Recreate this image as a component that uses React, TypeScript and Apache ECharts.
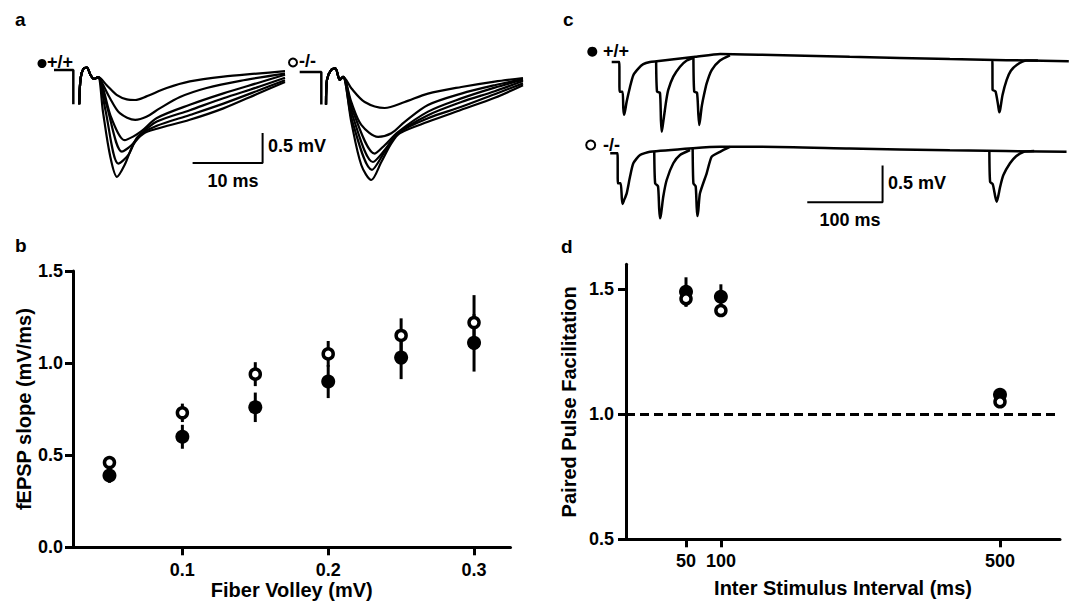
import React, { useEffect, useRef } from "react";
import * as echarts from "echarts";

const FONT = "'Liberation Sans', Arial, Helvetica, sans-serif";

// ---------- Panel a : fEPSP input/output traces (time ms, mV) ----------
const aArtifactWT = [[0, 0], [2.76, 0], [2.76, -0.57]];
const aOnsetWT = [[3.6, -0.57], [3.8, -0.14], [4.2, 0.02], [4.7, 0.04], [5.2, -0.08], [5.7, -0.15], [6.3, -0.12]];
const aTracesWT = [
  [[7.5, -0.25], [9.0, -0.42], [10.4, -0.49], [11.6, -0.5], [13.2, -0.44], [16.1, -0.3], [19.4, -0.19], [24.2, -0.11], [29.0, -0.06], [33, -0.02]],
  [[6.8, -0.2], [8.0, -0.47], [9.4, -0.72], [11.6, -0.83], [13.2, -0.78], [15.1, -0.64], [18.0, -0.45], [21.8, -0.3], [26.6, -0.18], [33, -0.06]],
  [[7.0, -0.3], [8.2, -0.8], [10.1, -1.17], [11.3, -1.11], [12.5, -1.02], [14.7, -0.8], [19.4, -0.58], [24.2, -0.39], [29.0, -0.22], [33, -0.08]],
  [[7.5, -0.58], [9.7, -1.36], [11.1, -1.25], [12.3, -1.08], [14.7, -0.86], [19.4, -0.67], [24.2, -0.47], [29.0, -0.29], [33, -0.13]],
  [[7.3, -0.64], [9.2, -1.56], [10.6, -1.42], [12.0, -1.11], [14.7, -0.93], [19.4, -0.75], [24.2, -0.56], [29.0, -0.35], [33, -0.17]],
  [[7.0, -0.7], [8.0, -1.42], [9.0, -1.78], [10.1, -1.58], [11.3, -1.25], [12.8, -1.06], [14.7, -0.98], [19.4, -0.83], [24.2, -0.64], [29.0, -0.4], [33, -0.2]],
];
const aArtifactKO = [[-0.33, 0], [2.76, 0], [2.76, -0.54]];
const aOnsetKO = [[3.43, -0.54], [3.57, -0.13], [4.14, 0.03], [4.76, 0.06], [5.39, -0.13], [5.86, -0.08]];
const aTracesKO = [
  [[7.04, -0.27], [8.96, -0.5], [11.81, -0.6], [14.67, -0.5], [18, -0.36], [22.76, -0.25], [27.53, -0.16], [31.57, -0.1]],
  [[7.04, -0.5], [8.47, -0.88], [10.86, -1.08], [12.76, -1.02], [14.67, -0.83], [18, -0.55], [22.76, -0.36], [27.53, -0.22], [31.57, -0.12]],
  [[7.29, -0.66], [10.39, -1.36], [11.81, -1.22], [13.71, -1.0], [18, -0.66], [22.76, -0.44], [27.53, -0.26], [31.57, -0.13]],
  [[7.29, -0.75], [10.14, -1.5], [11.81, -1.3], [13.71, -1.02], [18, -0.72], [22.76, -0.5], [27.53, -0.32], [31.57, -0.15]],
  [[7.14, -0.8], [10.0, -1.63], [11.81, -1.33], [13.71, -1.02], [18, -0.77], [22.76, -0.58], [27.53, -0.37], [31.57, -0.19]],
  [[7.04, -0.83], [8.47, -1.55], [9.9, -1.8], [11.33, -1.5], [12.76, -1.19], [13.96, -1.02], [18, -0.83], [22.76, -0.63], [27.53, -0.43], [31.57, -0.22]],
];
const scaleBarA = [[19.8, -1.55], [29.8, -1.55], [29.8, -1.05]]; // 10 ms, 0.5 mV

// ---------- Panel b : input/output ----------
const bFiberVolley = [0.05, 0.1, 0.15, 0.2, 0.25, 0.3];
const bSlopeWT = [0.39, 0.6, 0.76, 0.9, 1.03, 1.11];
const bSemWT = [0.04, 0.065, 0.08, 0.09, 0.117, 0.156];
const bSlopeKO = [0.46, 0.73, 0.94, 1.05, 1.15, 1.22];
const bSemKO = [0.02, 0.05, 0.065, 0.07, 0.093, 0.149];
const bXTicks = [0.1, 0.2, 0.3];

// ---------- Panel c : paired-pulse traces (time ms, mV) ----------
const cBaseWT = [[-11, 0], [-1, 0], [-0.5, -0.405], [3.4, -0.405], [4.4, -0.63], [5.3, -0.72], [6.5, -0.68], [8.9, -0.54], [13.3, -0.34], [17.7, -0.18], [24.3, -0.09], [30.9, -0.03], [39.8, 0], [48.7, 0.01], [100, 0.07], [133, 0.11], [186, 0.1], [305, 0.07], [438, 0.04], [596, 0.01]];
const cPulse50WT = [[48, 0.01], [48.8, 0.01], [49.2, -0.405], [53.1, -0.42], [54.4, -0.8], [55.4, -0.95], [56.6, -0.88], [58.4, -0.746], [61.5, -0.52], [64.1, -0.38], [70.8, -0.2], [79.7, -0.064], [88.6, 0.02], [97, 0.055]];
const cPulse100WT = [[97.5, 0.06], [98.3, 0.06], [98.6, -0.405], [102.3, -0.42], [104, -0.7], [105.3, -0.86], [106.5, -0.78], [108.5, -0.61], [111.5, -0.45], [115.1, -0.29], [121.8, -0.11], [132.8, 0.02], [146, 0.09]];
const cPulse500WT = [[493.5, 0.02], [494.5, 0.02], [494.8, -0.38], [498.7, -0.4], [502.3, -0.6], [503.7, -0.686], [505, -0.64], [508, -0.45], [513.5, -0.245], [519, -0.12], [526.8, -0.04], [540, 0.02], [555, 0.02]];
const cBaseKO = [[-13, 0], [-3.3, 0], [-2.8, -0.41], [0.9, -0.41], [2.5, -0.62], [3.6, -0.69], [5, -0.65], [8.9, -0.546], [13.3, -0.32], [17.7, -0.136], [26.6, -0.023], [39.8, 0.02], [97, 0.07], [133, 0.09], [186, 0.09], [305, 0.065], [438, 0.04], [593, 0.02]];
const cPulse50KO = [[45.5, 0.02], [46.2, 0.02], [46.7, -0.41], [50.5, -0.45], [52, -0.75], [53.1, -0.887], [54.5, -0.83], [57.5, -0.59], [62, -0.364], [70.8, -0.136], [79.7, -0.023], [93, 0.045]];
const cPulse100KO = [[96.5, 0.07], [97, 0.07], [97.5, -0.41], [100.5, -0.45], [101.8, -0.72], [102.7, -0.855], [104, -0.78], [106.2, -0.546], [115.1, -0.273], [121.8, -0.046], [132.8, 0.02], [146, 0.086]];
const cPulse500KO = [[490.5, 0.04], [491, 0.04], [491.5, -0.39], [495, -0.42], [498.5, -0.6], [500.3, -0.66], [502, -0.6], [505, -0.45], [509, -0.3], [517.9, -0.136], [526, -0.04], [535.6, 0.018], [550, 0.03]];
const scaleBarC = [[248.7, -0.668], [348.7, -0.668], [348.7, -0.168]]; // 100 ms, 0.5 mV

// ---------- Panel d : paired-pulse facilitation ----------
const dInterval = [50, 100, 500];
const dPpfWT = [1.49, 1.47, 1.078];
const dSemWT = [0.058, 0.05, 0.01];
const dPpfKO = [1.462, 1.415, 1.05];
const dSemKO = [0.032, 0.025, 0.01];
const dXTicks = [50, 100, 500];
const dYTicks = [0.5, 1.0, 1.5];

function traceSeries(data: number[][], axis: number, width = 2.2, smooth: number | boolean = 0.3) {
  return {
    type: "line",
    xAxisIndex: axis,
    yAxisIndex: axis,
    data,
    smooth,
    symbol: "none",
    silent: true,
    lineStyle: { color: "#000", width, opacity: 1 },
    z: 3,
  };
}

function errorSeries(xs: number[], ys: number[], errs: number[], axis: number) {
  return {
    type: "custom",
    xAxisIndex: axis,
    yAxisIndex: axis,
    silent: true,
    z: 1,
    encode: { x: 0, y: [1, 2] },
    data: xs.map((x, i) => [x, ys[i] - errs[i], ys[i] + errs[i]]),
    renderItem: (_p: any, api: any) => {
      const a = api.coord([api.value(0), api.value(1)]);
      const b = api.coord([api.value(0), api.value(2)]);
      return {
        type: "line",
        shape: { x1: a[0], y1: a[1], x2: b[0], y2: b[1] },
        style: { stroke: "#000", lineWidth: 3 },
      };
    },
  };
}

function hiddenAxis(grid: number, min: number, max: number) {
  return { type: "value", gridIndex: grid, min, max, show: false };
}

const axisBase = {
  axisLine: { show: true, onZero: false, lineStyle: { color: "#000", width: 3 } },
  axisTick: { show: true, length: 8, lineStyle: { color: "#000", width: 3 } },
  splitLine: { show: false },
  nameLocation: "middle",
  nameTextStyle: { color: "#000", fontSize: 20, fontWeight: "bold", fontFamily: FONT },
};
const labelBase = { color: "#000", fontSize: 18, fontWeight: "bold", fontFamily: FONT };

function txt(text: string, x: number, y: number, size: number, align = "left") {
  return {
    type: "text",
    x,
    y,
    silent: true,
    style: {
      text,
      fill: "#000",
      fontSize: size,
      fontWeight: "bold",
      fontFamily: FONT,
      textAlign: align,
      align,
      textVerticalAlign: "middle",
      verticalAlign: "middle",
    },
  };
}

export default function App() {
  const ref = useRef<HTMLDivElement>(null);
  useEffect(() => {
    if (!ref.current) return;
    const chart = echarts.init(ref.current, null, { renderer: "svg", width: 1077, height: 604 });
    const option: any = {
      animation: false,
      backgroundColor: "#fff",
      grid: [
        { left: 54, top: 46, width: 234.5, height: 144 },
        { left: 298.5, top: 48, width: 227.5, height: 144 },
        { left: 73, top: 271, width: 437.5, height: 276.3 },
        { left: 610.2, top: 40, width: 458.6, height: 110 },
        { left: 610.2, top: 131.3, width: 458.6, height: 110 },
        { left: 626, top: 264.3, width: 434, height: 275 },
      ],
      xAxis: [
        hiddenAxis(0, 0, 33.5),
        hiddenAxis(1, -0.5, 32),
        {
          ...axisBase,
          type: "value",
          gridIndex: 2,
          min: 0.025,
          max: 0.325,
          name: "Fiber Volley (mV)",
          nameGap: 31,
          axisTick: { ...axisBase.axisTick, customValues: bXTicks },
          axisLabel: { ...labelBase, margin: 14, customValues: bXTicks, formatter: (v: number) => v.toFixed(1) },
        },
        hiddenAxis(3, -13, 596),
        hiddenAxis(4, -13, 596),
        {
          ...axisBase,
          type: "value",
          gridIndex: 5,
          min: -36,
          max: 586,
          name: "Inter Stimulus Interval (ms)",
          nameGap: 39,
          axisTick: { ...axisBase.axisTick, customValues: dXTicks },
          axisLabel: { ...labelBase, margin: 13, customValues: dXTicks },
        },
      ],
      yAxis: [
        hiddenAxis(0, -2, 0.4),
        hiddenAxis(1, -2, 0.4),
        {
          ...axisBase,
          type: "value",
          gridIndex: 2,
          min: 0,
          max: 1.5,
          interval: 0.5,
          name: "fEPSP slope (mV/ms)",
          nameGap: 39,
          axisLabel: { ...labelBase, margin: 10, formatter: (v: number) => v.toFixed(1) },
        },
        hiddenAxis(3, -1.2, 0.3),
        hiddenAxis(4, -1.2, 0.3),
        {
          ...axisBase,
          type: "value",
          gridIndex: 5,
          min: 0.5,
          max: 1.6,
          name: "Paired Pulse Facilitation",
          nameGap: 47,
          axisTick: { ...axisBase.axisTick, customValues: dYTicks },
          axisLabel: { ...labelBase, margin: 12, customValues: dYTicks, formatter: (v: number) => v.toFixed(1) },
        },
      ],
      series: [
        // panel a
        traceSeries(aArtifactWT, 0, 2.5, false),
        ...aTracesWT.map((t) => traceSeries([...aOnsetWT, ...t], 0)),
        traceSeries(scaleBarA, 0, 2, false),
        traceSeries(aArtifactKO, 1, 2.5, false),
        ...aTracesKO.map((t) => traceSeries([...aOnsetKO, ...t], 1)),
        // panel b
        errorSeries(bFiberVolley, bSlopeWT, bSemWT, 2),
        errorSeries(bFiberVolley, bSlopeKO, bSemKO, 2),
        {
          type: "scatter", xAxisIndex: 2, yAxisIndex: 2, silent: true, z: 4,
          data: bFiberVolley.map((x, i) => [x, bSlopeWT[i]]),
          symbol: "circle", symbolSize: 14, itemStyle: { color: "#000", opacity: 1 },
        },
        {
          type: "scatter", xAxisIndex: 2, yAxisIndex: 2, silent: true, z: 5,
          data: bFiberVolley.map((x, i) => [x, bSlopeKO[i]]),
          symbol: "circle", symbolSize: 10, itemStyle: { color: "#fff", borderColor: "#000", borderWidth: 3.5, opacity: 1 },
        },
        // panel c
        traceSeries(cBaseWT, 3, 2.5, 0.2),
        traceSeries(cPulse50WT, 3, 2.5, 0.2),
        traceSeries(cPulse100WT, 3, 2.5, 0.2),
        traceSeries(cPulse500WT, 3, 2.5, 0.2),
        traceSeries(cBaseKO, 4, 2.5, 0.2),
        traceSeries(cPulse50KO, 4, 2.5, 0.2),
        traceSeries(cPulse100KO, 4, 2.5, 0.2),
        traceSeries(cPulse500KO, 4, 2.5, 0.2),
        traceSeries(scaleBarC, 4, 2, false),
        // panel d
        errorSeries(dInterval, dPpfWT, dSemWT, 5),
        errorSeries(dInterval, dPpfKO, dSemKO, 5),
        {
          type: "scatter", xAxisIndex: 5, yAxisIndex: 5, silent: true, z: 4,
          data: dInterval.map((x, i) => [x, dPpfWT[i]]),
          symbol: "circle", symbolSize: 14, itemStyle: { color: "#000", opacity: 1 },
          markLine: {
            silent: true,
            symbol: ["none", "none"],
            label: { show: false },
            lineStyle: { color: "#000", width: 3, type: [9, 5], opacity: 1 },
            data: [{ yAxis: 1 }],
          },
        },
        {
          type: "scatter", xAxisIndex: 5, yAxisIndex: 5, silent: true, z: 5,
          data: dInterval.map((x, i) => [x, dPpfKO[i]]),
          symbol: "circle", symbolSize: 10, itemStyle: { color: "#fff", borderColor: "#000", borderWidth: 3.5, opacity: 1 },
        },
      ],
      graphic: [
        txt("a", 15, 19, 19),
        txt("b", 15, 245, 19),
        txt("c", 563, 19, 19),
        txt("d", 561, 246, 19),
        { type: "circle", silent: true, shape: { cx: 42, cy: 63.5, r: 4.5 }, style: { fill: "#000" } },
        txt("+/+", 47, 61.5, 18),
        { type: "circle", silent: true, shape: { cx: 293, cy: 62.5, r: 4 }, style: { fill: "#fff", stroke: "#000", lineWidth: 2 } },
        txt("-/-", 299, 61, 18),
        txt("0.5 mV", 268, 146, 18),
        txt("10 ms", 233, 181, 18, "center"),
        { type: "circle", silent: true, shape: { cx: 592.3, cy: 51.7, r: 5 }, style: { fill: "#000" } },
        txt("+/+", 603, 51, 18),
        { type: "circle", silent: true, shape: { cx: 590.7, cy: 145, r: 4.5 }, style: { fill: "#fff", stroke: "#000", lineWidth: 2 } },
        txt("-/-", 603, 145, 18),
        txt("0.5 mV", 888, 183.3, 18),
        txt("100 ms", 850, 220, 18, "center"),
      ],
    };
    chart.setOption(option);
    return () => chart.dispose();
  }, []);
  return (
    <div
      ref={ref}
      style={{ position: "fixed", left: 0, top: 0, width: 1077, height: 604, background: "#fff" }}
    />
  );
}
